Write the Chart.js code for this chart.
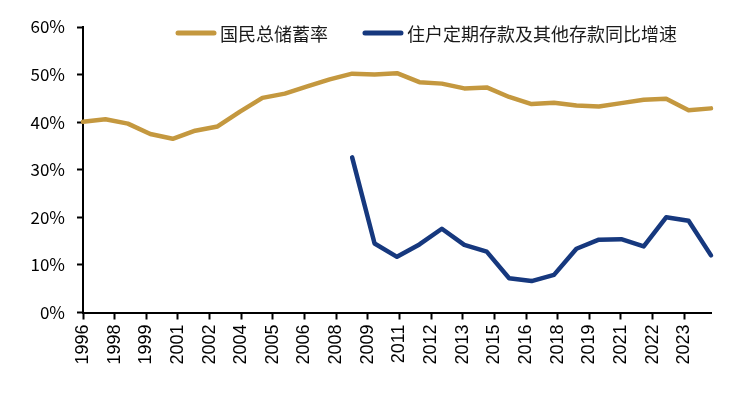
<!DOCTYPE html>
<html><head><meta charset="utf-8">
<script src="https://cdn.jsdelivr.net/npm/chart.js@4"></script>
<style>html,body{margin:0;padding:0;background:#fff}#wrap{width:744px;height:393px}</style>
</head><body><div id="wrap"><canvas id="c" width="744" height="393"></canvas></div>
<script>
const years = [1996,1997,1998,1999,2000,2001,2002,2003,2004,2005,2006,2007,2008,2009,2010,2011,2012,2013,2014,2015,2016,2017,2018,2019,2020,2021,2022,2023,2024];
const savingRate = [40.1,40.6,39.7,37.5,36.5,38.2,39.1,42.2,45.1,46.0,47.5,49.0,50.2,50.0,50.3,48.4,48.1,47.1,47.3,45.3,43.8,44.1,43.5,43.3,44.0,44.7,44.9,42.5,42.9];
const depositGrowth = [null,null,null,null,null,null,null,null,null,null,null,null,32.6,14.5,11.7,14.3,17.6,14.2,12.8,7.2,6.6,7.9,13.4,15.3,15.4,13.9,20.0,19.3,12.0];
const xTickLabels = ['1996','1998','1999','2001','2002','2004','2005','2006','2008','2009','2011','2012','2013','2015','2016','2018','2019','2021','2022','2023'];
const yTickValues = [0,10,20,30,40,50,60];
const seriesNames = ['国民总储蓄率','住户定期存款及其他存款同比增速'];
const xTickStep = 1.411;

const toPts = arr => arr.map((v,i)=>({x:years[i], y:v}));

const legendPlugin = {
  id:'customLegend',
  afterDraw(chart){
    const ctx = chart.ctx;
    ctx.save();
    ctx.font = '18px "Noto Sans CJK SC"';
    ctx.textBaseline = 'middle';
    let x = 176; const y = 33;
    chart.data.datasets.forEach(ds=>{
      ctx.strokeStyle = ds.borderColor;
      ctx.lineWidth = 5;
      ctx.lineCap = 'round';
      ctx.beginPath(); ctx.moveTo(x+2,y); ctx.lineTo(x+38,y); ctx.stroke();
      ctx.fillStyle = '#1a1a1a';
      ctx.fillText(ds.label, x+44, y+1);
      x += 44 + ctx.measureText(ds.label).width + 35;
    });
    ctx.restore();
  }
};

new Chart(document.getElementById('c'), {
  type:'line',
  data:{datasets:[
    {label:seriesNames[0], data:toPts(savingRate), borderColor:'#C4983F', borderWidth:4.5, pointRadius:0, tension:0, clip:false, borderJoinStyle:'round', borderCapStyle:'round'},
    {label:seriesNames[1], data:toPts(depositGrowth), borderColor:'#16387E', borderWidth:4.5, pointRadius:0, tension:0, clip:false, spanGaps:false, borderJoinStyle:'round', borderCapStyle:'round'}
  ]},
  options:{
    responsive:false, animation:false,
    layout:{padding:{top:27,right:33,left:0,bottom:0}},
    plugins:{legend:{display:false}, tooltip:{enabled:false}},
    scales:{
      x:{type:'linear', min:years[0], max:years[years.length-1],
        afterBuildTicks(s){ s.ticks = xTickLabels.map((_,i)=>({value:years[0]+i*xTickStep})); },
        afterFit(s){ s.height = 80.5; },
        ticks:{autoSkip:false, maxRotation:90, minRotation:90, color:'#000', padding:5,
          font:{family:'"Liberation Sans", Arial', size:18},
          callback:(v,i)=>xTickLabels[i]},
        grid:{drawOnChartArea:false, drawTicks:true, tickLength:7, tickColor:'#000', tickWidth:2},
        border:{color:'#000', width:2}
      },
      y:{min:0, max:60,
        afterBuildTicks(s){ s.ticks = yTickValues.map(v=>({value:v})); },
        afterFit(s){ s.width = 83; },
        ticks:{color:'#000', padding:12, font:{family:'"Noto Sans CJK SC"', size:17}, callback:v=>v+'%'},
        grid:{drawOnChartArea:false, drawTicks:true, tickLength:6, tickColor:'#000', tickWidth:2},
        border:{color:'#000', width:2}
      }
    }
  },
  plugins:[legendPlugin]
});
</script></body></html>
